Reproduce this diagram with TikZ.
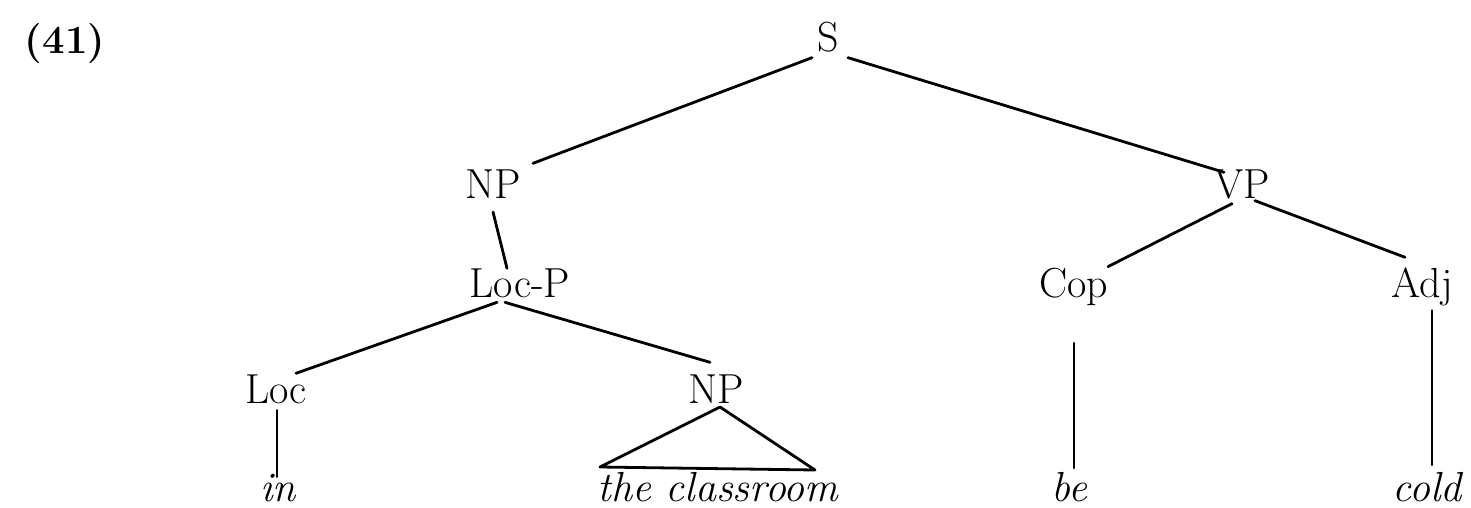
\documentclass[tikz,border=0pt]{standalone}
\usepackage{fontspec}
\usetikzlibrary{calc}
\tikzset{
  lbl/.style={inner sep=0pt, outer sep=0pt, anchor=base, font=\fontsize{42}{50}\selectfont},
  wrd/.style={lbl, font=\fontsize{42}{50}\selectfont\itshape},
  br/.style={line width=2.8pt, line cap=round, line join=round}
}
\begin{document}
\begin{tikzpicture}[x=1pt, y=-1pt]
\useasboundingbox (0,0) rectangle (1471,508);
\fill[white] (0,0) rectangle (1471,508);
% example number
\node[inner sep=0pt, anchor=base, font=\fontsize{40}{48}\selectfont\bfseries] (num) at (65,54) {(41)};
% categories
\node[lbl] (S) at (828,52) {S};
\node[lbl] (NP) at (493,198) {NP};
\node[lbl] (VP) at (1242,198) {VP};
\node[lbl] (LocP) at (520,297) {Loc-P};
\node[lbl] (Cop) at (1074,297) {Cop};
\node[lbl] (Adj) at (1422,297) {Adj};
\node[lbl] (Loc) at (276,403) {Loc};
\node[lbl] (NPb) at (716,403) {NP};
% words
\node[wrd] (in) at (278,501) {in};
\node[wrd] (cls) at (718,501) {the classroom};
\node[wrd] (be) at (1069,501) {be};
\node[wrd] (cold) at (1427,501) {cold};
% triangle corners
\coordinate (tri-top) at ($(NPb.south)+(4,4)$);
\coordinate (tri-l) at ($(NPb.south)+(-116,64)$);
\coordinate (tri-r) at ($(NPb.south)+(99,67)$);
% branches
\draw[br] ($(S.south)+(-16,5)$) -- ($(NP.north)+(40,-6)$);
\draw[br] ($(S.south)+(20,5)$) -- ($(VP.north)+(-18,3)$);
\draw[br] ($(NP.south)+(0,14)$) -- ($(LocP.north)+(-13,0)$);
\draw[br] ($(VP.south)+(-10,5)$) -- ($(Cop.north)+(34,-1)$);
\draw[br] ($(VP.south)+(13,2)$) -- ($(Adj.north)+(-17,-10)$);
\draw[br] ($(LocP.south)+(-23,5)$) -- ($(Loc.north)+(20,-1)$);
\draw[br] ($(LocP.south)+(-15,5)$) -- ($(NPb.north)+(-6,-12)$);
\draw[br] (tri-top) -- (tri-l) -- (tri-r) -- cycle;
\draw[br] ($(Loc.south)+(1,7)$) -- ($(in.north)+(-1,3)$);
\draw[br] ($(Cop.south)+(0,38)$) -- ($(be.north)+(5,-4)$);
\draw[br] ($(Adj.south)+(10,5)$) -- ($(cold.north)+(5,-7)$);
\end{tikzpicture}
\end{document}
